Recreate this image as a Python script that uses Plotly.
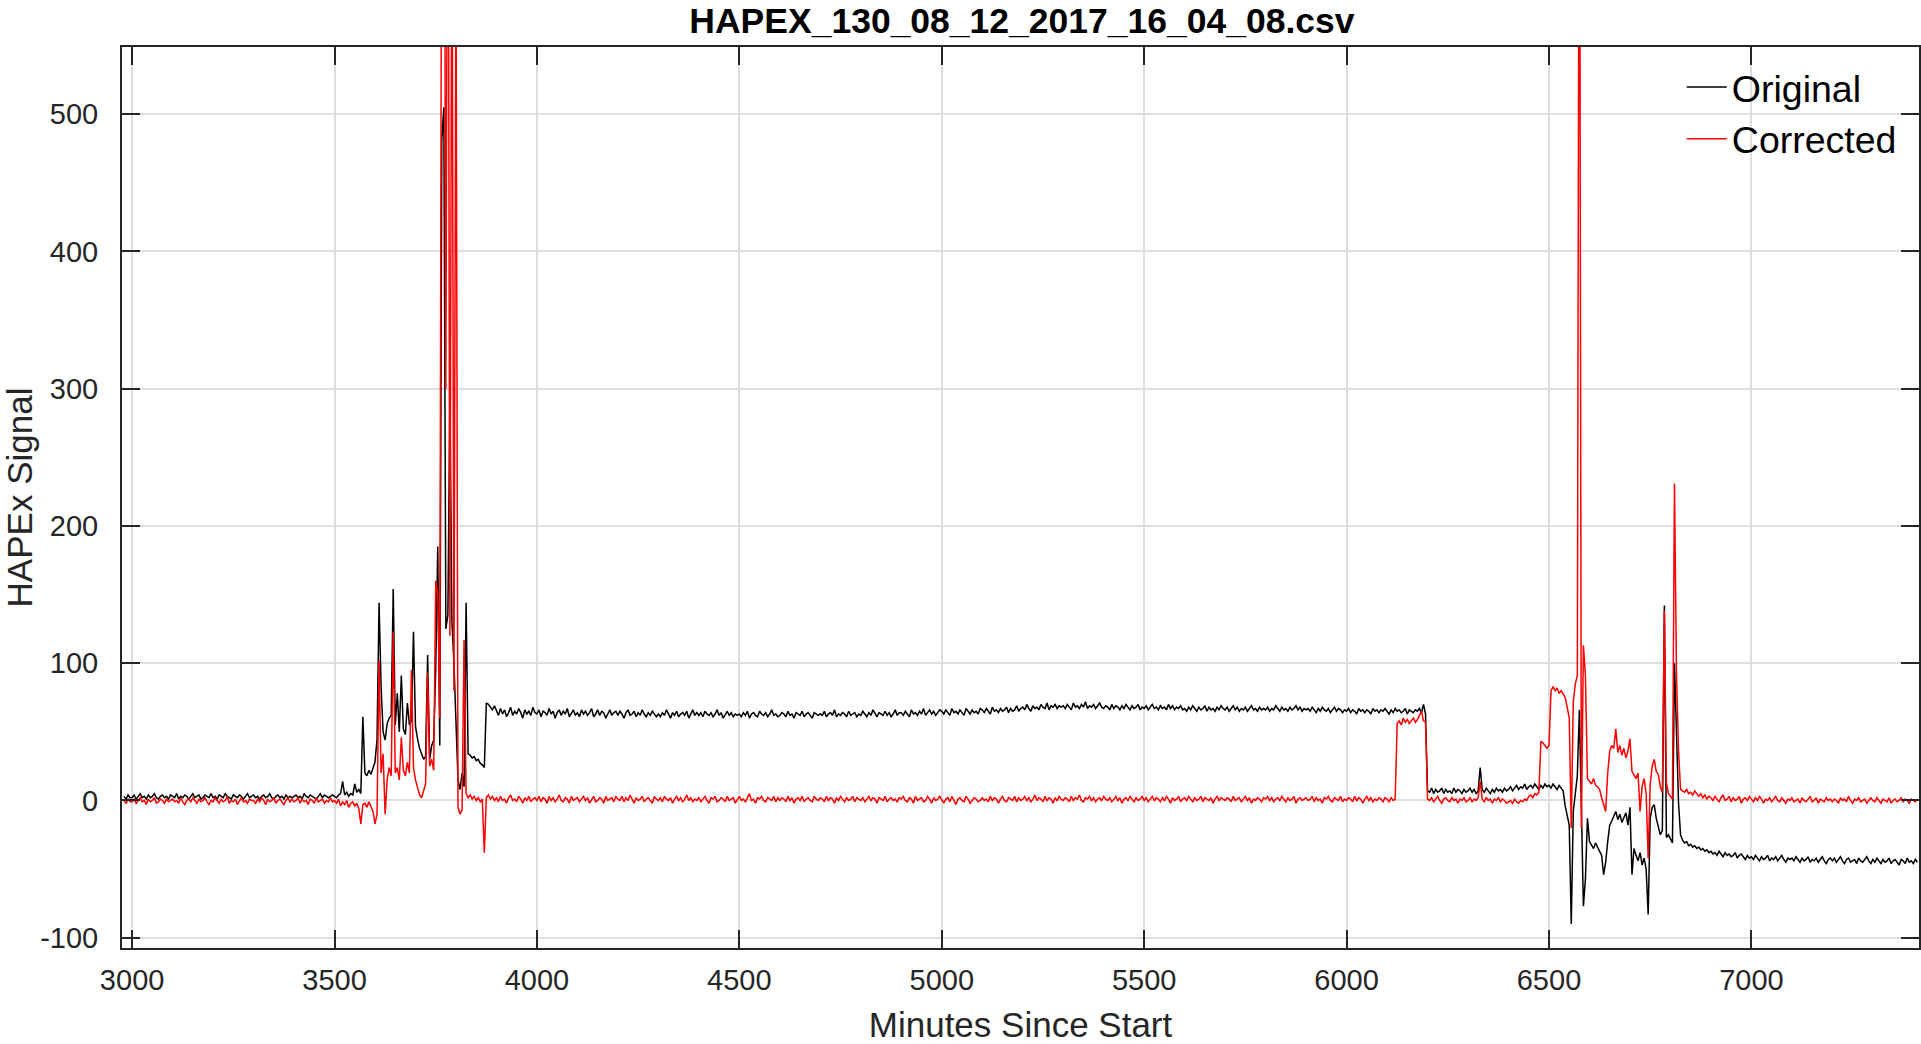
import plotly.graph_objects as go

# Sampling grid: one reading every 5 minutes from 2980 to 7410
start_minute = 2980
step_minutes = 5

# Original HAPEx signal (rows = 100-minute blocks)
original = [
    3, 1, 4, 2,  # 2980
    2, 4, 1, 3, 5, 2, 3, 1, 4, 2, 3, 5, 2, 1, 3, 4, 2, 3, 1, 4,  # 3000
    3, 2, 5, 1, 3, 2, 4, 3, 1, 3, 5, 2, 3, 4, 1, 2, 4, 3, 2, 5,  # 3100
    2, 3, 1, 4, 3, 2, 5, 3, 2, 1, 4, 3, 2, 4, 3, 1, 3, 5, 2, 3,  # 3200
    4, 2, 3, 1, 3, 4, 2, 3, 5, 2, 1, 3, 4, 2, 3, 1, 4, 2, 3, 2,  # 3300
    3, 4, 2, 3, 1, 5, 3, 2, 4, 3, 2, 1, 3, 5, 2, 4, 3, 2, 3, 4,  # 3400
    3, 2, 4, 5, 14, 4, 6, 3, 5, 4, 12, 6, 8, 5, 61, 20, 18, 22, 19, 24,  # 3500
    28, 45, 144, 83, 50, 44, 56, 60, 62, 154, 55, 78, 50, 91, 52, 48, 71, 55, 58, 123,  # 3600
    54, 45, 38, 34, 30, 32, 106, 30, 40, 44, 96, 185, 40, 481, 505, 125, 135, 296, 130, 100,  # 3700
    60, 15, 8, 20, 10, 144, 34, 33, 31, 32, 29, 30, 27, 26, 24, 71, 70, 68, 66, 69,  # 3800
    65, 62, 67, 63, 66, 61, 64, 68, 62, 65, 63, 67, 64, 60, 66, 63, 65, 62, 68, 64,  # 3900
    63, 66, 61, 65, 64, 62, 67, 63, 65, 60, 64, 66, 62, 65, 63, 67, 61, 64, 66, 62,  # 4000
    64, 61, 66, 63, 65, 62, 64, 67, 61, 63, 66, 62, 65, 64, 60, 63, 66, 62, 64, 65,  # 4100
    62, 65, 63, 60, 64, 66, 62, 63, 65, 61, 64, 62, 66, 63, 61, 64, 62, 65, 63, 61,  # 4200
    63, 61, 64, 62, 66, 63, 60, 64, 62, 65, 61, 63, 64, 62, 65, 60, 63, 66, 62, 64,  # 4300
    62, 64, 61, 65, 63, 62, 64, 61, 63, 66, 62, 64, 60, 63, 65, 62, 64, 61, 63, 62,  # 4400
    63, 61, 64, 62, 65, 60, 63, 64, 62, 61, 65, 63, 62, 64, 61, 63, 66, 62, 63, 61,  # 4500
    62, 64, 63, 61, 65, 62, 63, 60, 64, 63, 62, 65, 61, 63, 64, 62, 60, 64, 63, 62,  # 4600
    63, 62, 65, 61, 63, 64, 62, 66, 61, 63, 62, 64, 63, 61, 65, 62, 63, 64, 61, 63,  # 4700
    62, 65, 63, 61, 64, 62, 66, 63, 61, 64, 63, 62, 65, 62, 64, 61, 63, 66, 62, 64,  # 4800
    64, 62, 65, 63, 61, 66, 63, 64, 62, 65, 63, 67, 62, 64, 66, 63, 65, 62, 64, 66,  # 4900
    65, 63, 66, 64, 62, 67, 64, 65, 63, 66, 64, 62, 67, 65, 63, 66, 64, 65, 63, 67,  # 5000
    66, 64, 67, 65, 63, 68, 65, 66, 64, 67, 65, 66, 68, 64, 67, 65, 66, 69, 65, 67,  # 5100
    68, 66, 70, 67, 65, 69, 67, 68, 66, 70, 68, 67, 71, 66, 69, 68, 70, 67, 69, 68,  # 5200
    69, 67, 70, 68, 66, 71, 68, 69, 67, 70, 68, 72, 67, 69, 68, 70, 67, 69, 71, 68,  # 5300
    67, 69, 68, 66, 70, 67, 69, 68, 66, 69, 67, 70, 68, 66, 69, 67, 68, 70, 66, 68,  # 5400
    67, 69, 66, 68, 70, 67, 68, 66, 69, 67, 68, 66, 70, 67, 69, 66, 68, 67, 69, 66,  # 5500
    67, 65, 68, 66, 69, 67, 65, 68, 66, 67, 69, 65, 68, 66, 67, 65, 68, 66, 69, 67,  # 5600
    66, 68, 65, 67, 69, 66, 68, 65, 67, 66, 68, 65, 67, 69, 66, 67, 65, 68, 66, 67,  # 5700
    66, 68, 65, 67, 66, 69, 67, 65, 68, 66, 67, 65, 68, 66, 67, 69, 66, 68, 65, 67,  # 5800
    66, 67, 65, 68, 66, 64, 67, 65, 68, 66, 65, 67, 64, 66, 68, 65, 67, 66, 64, 66,  # 5900
    65, 67, 64, 66, 65, 63, 67, 65, 66, 64, 66, 65, 63, 67, 65, 66, 64, 66, 65, 67,  # 6000
    65, 63, 66, 64, 67, 65, 66, 64, 65, 67, 63, 66, 65, 64, 66, 65, 67, 64, 70, 63,  # 6100
    7, 6, 9, 5, 8, 6, 7, 9, 5, 8, 6, 7, 5, 9, 6, 8, 7, 5, 8, 6,  # 6200
    7, 9, 6, 8, 5, 7, 24, 8, 6, 9, 7, 5, 8, 6, 9, 7, 8, 6, 9, 7,  # 6300
    8, 10, 7, 9, 11, 8, 10, 9, 12, 8, 10, 11, 9, 12, 10, 8, 11, 9, 12, 10,  # 6400
    11, 9, 12, 10, 8, 11, 9, 7, -4, -12, -18, -90, -8, 5, 18, 66, -14, -77, -57, -13,  # 6500
    -30, -33, -35, -31, -34, -36, -40, -54, -45, -30, -18, -15, -12, -8, -14, -10, -16, -12, -9, -18,  # 6600
    -5, -54, -35, -40, -44, -38, -47, -42, -50, -83, -13, -5, -3, -13, -20, -25, -22, 142, -27, -25,  # 6700
    -28, -31, 100, 40, -2, -25, -29, -31, -30, -33, -32, -34, -33, -35, -34, -36, -35, -37, -36, -38,  # 6800
    -37, -39, -38, -40, -37, -39, -41, -38, -40, -39, -41, -40, -38, -42, -40, -39, -41, -43, -40, -42,  # 6900
    -41, -43, -40, -42, -44, -41, -43, -42, -40, -44, -42, -43, -41, -44, -42, -40, -43, -45, -42, -43,  # 7000
    -42, -44, -41, -43, -45, -42, -44, -43, -41, -45, -43, -44, -42, -45, -43, -41, -44, -46, -43, -42,  # 7100
    -44, -42, -45, -43, -41, -44, -46, -43, -42, -45, -44, -43, -46, -42, -44, -45, -43, -41, -44, -46,  # 7200
    -43, -45, -42, -44, -46, -43, -45, -44, -42, -46, -44, -43, -45, -47, -43, -44, -46, -42, -45, -44,  # 7300
    -46, -43, -45,  # 7400
]

# Corrected HAPEx signal
corrected = [
    0, -2, 1, -1,  # 2980
    -1, 1, -2, 0, 2, -1, 0, -3, 1, -1, 0, 2, -2, -1, 1, 0, -2, 1, -1, 0,  # 3000
    1, -1, 0, -2, 2, -1, -3, 0, 1, -1, 2, 0, -2, 1, -1, 0, 2, -1, -3, 0,  # 3100
    -1, 2, 0, -2, 1, -1, 0, 3, -2, 0, -1, 1, -3, 0, 2, -1, 0, -2, 1, 0,  # 3200
    0, -2, 1, -1, 2, 0, -3, 1, -1, 0, 2, -2, 0, 1, -1, -3, 0, 2, -1, 1,  # 3300
    -1, 0, 2, -2, 1, -1, 0, -3, 1, 0, -2, 2, -1, 0, 1, -2, 0, -1, 2, -1,  # 3400
    0, -2, 1, -4, -1, -3, 0, -5, -2, -1, -4, -2, -6, -17, -3, -2, -5, -1, -4, -8,  # 3500
    -17, -10, 102, 20, 34, -10, 15, 24, 18, 123, 20, 24, 15, 46, 22, 18, 28, 20, 95, 24,  # 3600
    15, 10, 4, 2, 8, 12, 93, 25, 30, 22, 160, 150, 60, 760, 900, 300, 820, 120, 700, 80,  # 3700
    620, -5, -10, -7, 117, 5, 2, 4, 1, 3, 0, 2, -1, 1, -38, 2, 4, 1, 3, 0,  # 3800
    2, -1, 3, 0, 1, -2, 2, 4, 0, 1, -1, 3, 1, -2, 2, 0, 3, -1, 1, 2,  # 3900
    0, 3, -1, 2, 1, -2, 3, 0, 2, -1, 1, 4, 0, -1, 2, 1, -2, 3, 0, 1,  # 4000
    2, -1, 1, 3, 0, 2, -2, 1, 3, -1, 0, 2, 1, -2, 3, 0, 1, 2, -1, 3,  # 4100
    1, 0, 3, -1, 2, 0, 4, 1, -2, 2, 0, 1, 3, -1, 1, 2, 0, -2, 3, 1,  # 4200
    0, 2, -1, 3, 1, 0, 2, -2, 1, 3, 0, 2, -1, 1, 4, 0, 2, -1, 1, 0,  # 4300
    2, -1, 1, 3, 0, -2, 2, 1, 3, -1, 0, 2, 1, -1, 3, 0, 1, 2, -2, 1,  # 4400
    3, 0, 1, -1, 2, 5, 0, 1, -2, 2, 1, 3, 0, -1, 2, 1, 0, 3, -1, 2,  # 4500
    0, 2, 1, -1, 3, 0, 2, -2, 1, 2, 0, 3, -1, 1, 2, 0, -1, 3, 1, 0,  # 4600
    2, 1, -1, 3, 0, 2, 1, -2, 2, 0, 3, 1, -1, 2, 0, 1, 3, -1, 2, 1,  # 4700
    0, 2, -1, 1, 3, 0, 2, 1, -2, 2, 1, 0, 3, -1, 1, 2, 0, 1, -1, 2,  # 4800
    1, 3, 0, -1, 2, 1, -2, 3, 0, 1, 2, -1, 0, 3, 1, -2, 2, 0, 1, 3,  # 4900
    0, -2, 1, 2, -1, 3, 0, -3, 1, 2, 0, -1, 3, 1, -2, 0, 2, 1, -1, 0,  # 5000
    2, 0, 1, -1, 3, 0, 2, 1, -2, 1, 3, 0, -1, 2, 1, 0, 3, -1, 2, 0,  # 5100
    1, 3, 0, 2, -1, 1, 4, 0, 2, 1, -1, 3, 0, 2, 1, -2, 2, 0, 3, 1,  # 5200
    0, 2, 1, -1, 3, 0, 2, 1, 4, 0, -1, 2, 1, 3, 0, 2, -1, 1, 2, 0,  # 5300
    3, 1, 0, 2, -1, 1, 3, 0, 2, -2, 1, 2, 0, 3, 1, -1, 2, 0, 1, 3,  # 5400
    0, 2, -1, 1, 3, 0, 2, 1, -1, 2, 0, 3, 1, -2, 2, 0, 1, 3, -1, 1,  # 5500
    2, 0, 3, 1, -1, 2, 0, 1, 3, -1, 2, 1, 0, 2, -2, 1, 3, 0, 2, 1,  # 5600
    0, 2, 1, -1, 3, 0, 1, 2, -1, 1, 3, 0, 2, -2, 1, 0, 2, 1, -1, 2,  # 5700
    1, 3, 0, 2, -1, 1, 2, 0, 3, 1, -1, 2, 0, 1, 3, -2, 1, 2, 0, 1,  # 5800
    2, 0, 1, 3, -1, 2, 0, 1, -2, 2, 1, 3, 0, -1, 2, 1, 0, 3, -1, 1,  # 5900
    0, 2, 1, -1, 3, 0, 2, 1, -2, 1, 3, 0, 2, -1, 1, 0, 2, 1, -1, 2,  # 6000
    1, -1, 2, 0, 1, 56, 58, 55, 60, 57, 59, 56, 58, 60, 57, 59, 62, 65, 58, 57,  # 6100
    1, 0, 2, -1, 1, 3, 0, -2, 1, 2, 0, -1, 2, 0, 1, -2, 1, 0, 2, -1,  # 6200
    0, 2, -1, 1, 0, 2, 14, 1, -1, 2, 0, 1, -2, 1, 0, 2, -1, 1, 0, -2,  # 6300
    -1, 0, -2, 1, -1, -2, 0, -1, 1, 0, 3, 4, 2, 5, 4, 6, 43, 42, 40, 38,  # 6400
    40, 80, 83, 80, 82, 78, 80, 77, 75, 68, 60, -20, 72, 85, 91, 800, -20, 113, 91, 16,  # 6500
    14, 12, 16, 11, 10, 8, 2, -3, -8, 20, 36, 40, 38, 52, 35, 40, 33, 38, 31, 36,  # 6600
    45, 21, 18, 16, 20, -8, 10, 16, 5, -42, 12, 25, 30, 21, 19, 10, 6, 138, 13, 5,  # 6700
    3, 1, 231, 91, 36, 8, 7, 6, 8, 5, 6, 4, 7, 5, 3, 5, 2, 4, 1, 3,  # 6800
    2, 0, 3, 1, -1, 2, 4, 0, 1, 3, -1, 2, 0, 1, 3, -2, 1, 2, 0, 3,  # 6900
    1, -1, 2, 0, 3, 1, -2, 1, 0, 2, -1, 1, 3, 0, -1, 2, 0, -2, 1, 0,  # 7000
    2, -1, 0, 1, -2, 2, 0, -1, 1, 3, -1, 0, 2, -2, 1, 0, -1, 2, 0, 1,  # 7100
    -1, 1, 0, -2, 2, 0, 1, -1, 3, 0, -2, 1, 0, 2, -1, 0, 1, -2, 0, 2,  # 7200
    0, -1, 2, 0, -2, 1, 0, -1, 2, -2, 0, 1, -1, 0, 2, -1, 1, 0, -2, 1,  # 7300
    0, -1, 1,  # 7400
]

x_ticks = [3000, 3500, 4000, 4500, 5000, 5500, 6000, 6500, 7000]
y_ticks = [-100, 0, 100, 200, 300, 400, 500]

minutes = [start_minute + step_minutes * i for i in range(len(original))]
assert len(original) == len(corrected) == 887, (len(original), len(corrected))

FONT = "Liberation Sans, Arial, Helvetica, sans-serif"
AXIS_COLOR = "#262626"

fig = go.Figure()
fig.add_trace(go.Scatter(x=minutes, y=original, mode="lines", name="Original",
                         line=dict(color="#000000", width=1.5)))
fig.add_trace(go.Scatter(x=minutes, y=corrected, mode="lines", name="Corrected",
                         line=dict(color="#ff0000", width=1.5)))

axis_common = dict(
    showline=True, linecolor=AXIS_COLOR, linewidth=2, mirror="ticks",
    ticks="inside", ticklen=18, tickwidth=2, tickcolor=AXIS_COLOR,
    showgrid=True, gridcolor="#dedede", gridwidth=1.5, zeroline=False,
    tickfont=dict(family=FONT, size=29, color=AXIS_COLOR),
)

fig.update_xaxes(range=[2975, 7414], tickvals=x_ticks,
                 ticktext=[str(v) for v in x_ticks], ticklabelstandoff=5,
                 title=dict(text="Minutes Since Start", standoff=18,
                            font=dict(family=FONT, size=35, color=AXIS_COLOR)),
                 **axis_common)
fig.update_yaxes(range=[-107.5, 549], tickvals=y_ticks,
                 ticktext=[str(v) for v in y_ticks], ticklabelstandoff=16,
                 title=dict(text="HAPEx Signal", standoff=10,
                            font=dict(family=FONT, size=35, color=AXIS_COLOR)),
                 **axis_common)

fig.update_layout(
    width=1921, height=1044,
    margin=dict(l=122, r=0, t=47, b=96),
    plot_bgcolor="white", paper_bgcolor="white",
    title=dict(text="HAPEX_130_08_12_2017_16_04_08.csv", x=0.532, xanchor="center",
               y=0.98, yanchor="middle", yref="container",
               font=dict(family=FONT, size=35.5, color="#000000", weight="bold")),
    legend=dict(x=0.868, y=0.99, xanchor="left", yanchor="top",
                bgcolor="rgba(0,0,0,0)", borderwidth=0,
                font=dict(family=FONT, size=37.5, color="#000000"),
                itemwidth=40, tracegroupgap=0),
    showlegend=True,
)

fig.write_html("out.html")
